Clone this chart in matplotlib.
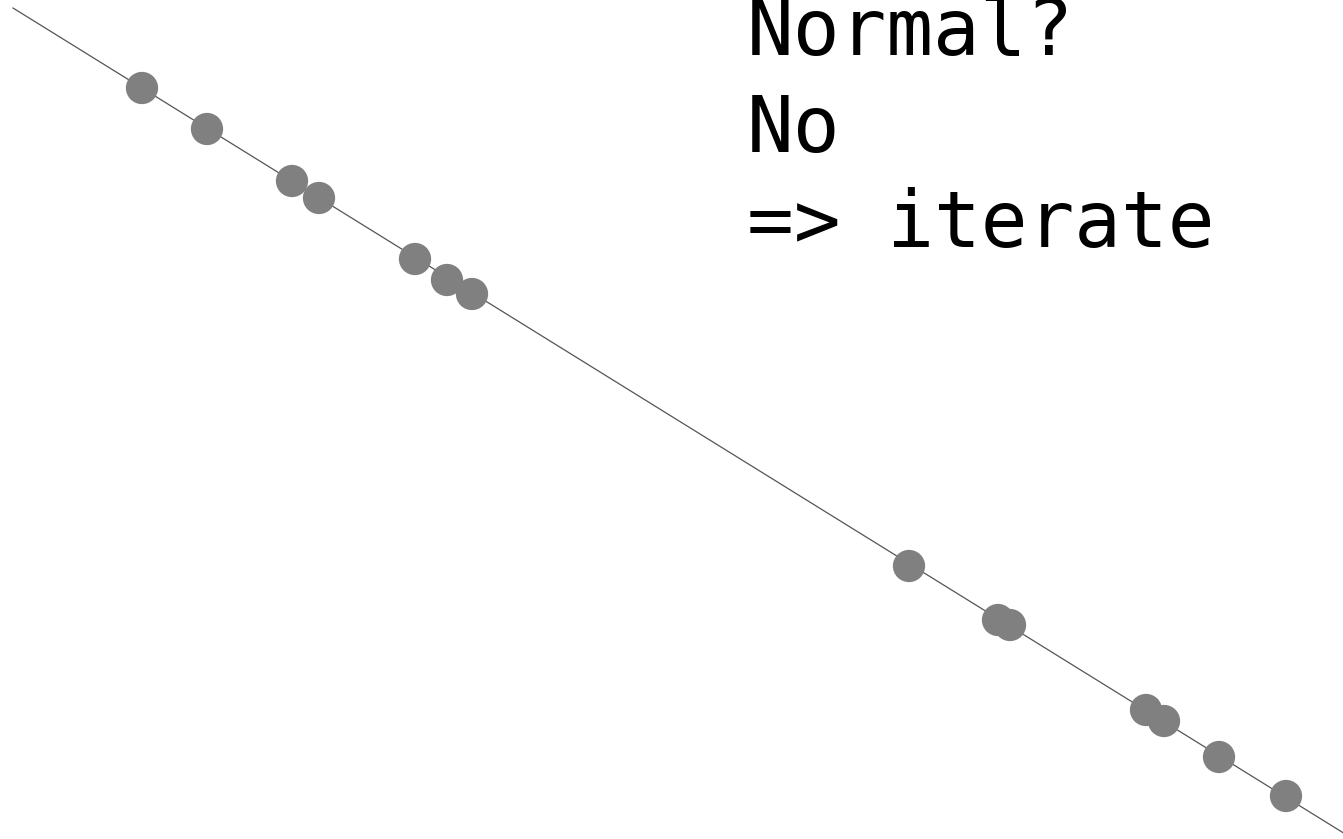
import numpy as np
import matplotlib
matplotlib.use("Agg")
import matplotlib.pyplot as plt

# sample points (theoretical vs. observed, in the chart's own units)
x_pts = [142, 207, 292, 319, 415, 447, 472, 909, 998, 1010, 1146, 1164, 1219, 1286]
y_pts = [88, 129, 181, 198, 259, 280, 294, 566, 620, 625, 710, 721, 757, 796]

# reference line end points
line_x = [13, 1400]
line_y = [8, 868]

text_lines = ["Normal?", "No", "=> iterate"]

fig = plt.figure(figsize=(13.43, 8.39), dpi=100)
ax = fig.add_axes([0, 0, 1, 1])
ax.set_xlim(0, 1343)
ax.set_ylim(839, 0)
ax.axis("off")

ax.plot(line_x, line_y, color="#555555", linewidth=0.9, zorder=1)
ax.scatter(x_pts, y_pts, s=540, color="#808080", edgecolors="none", zorder=2)

baselines = [55, 152, 247]
for t, yb in zip(text_lines, baselines):
    ax.text(747, yb, t, fontsize=56, family="DejaVu Sans Mono",
            ha="left", va="baseline", color="black")

fig.savefig("out.png", dpi=100)
